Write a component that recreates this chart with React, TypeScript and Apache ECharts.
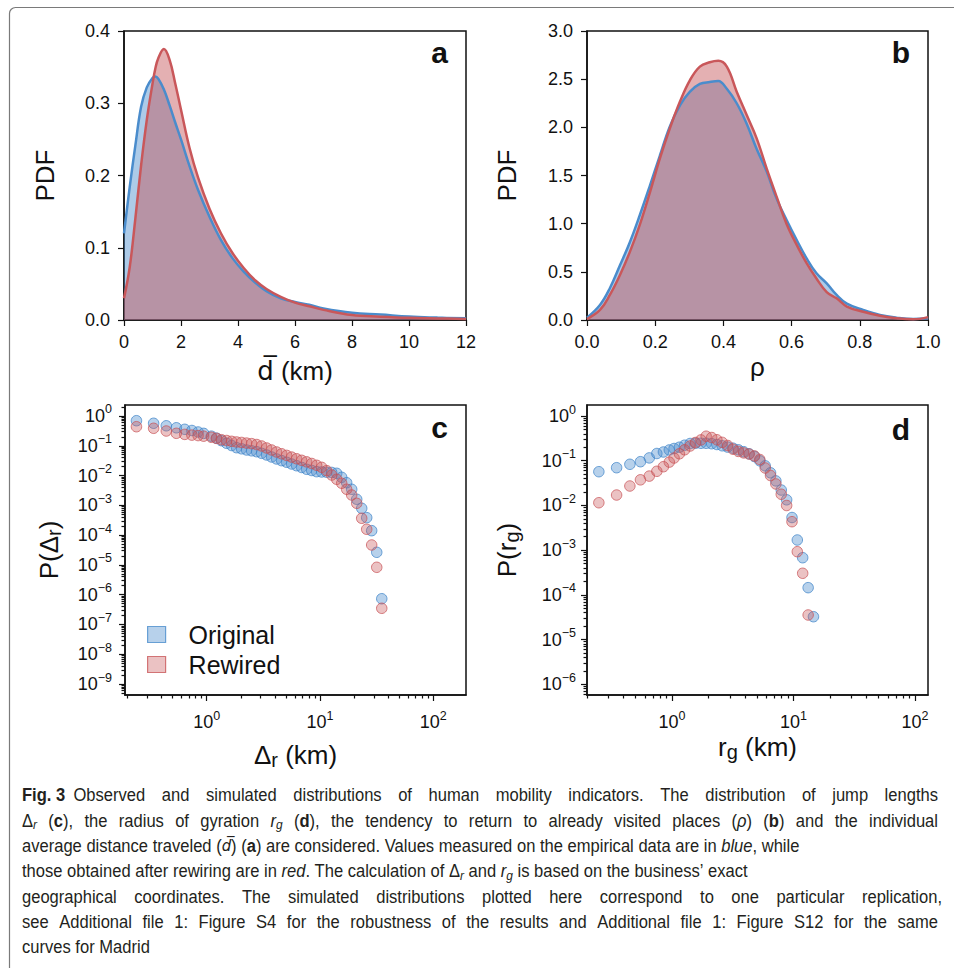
import React, { useEffect, useRef } from 'react';
import * as echarts from 'echarts';

const FONT = "'Liberation Sans', Arial, Helvetica, sans-serif";
const CAP_FONT = "'Liberation Sans', Arial, sans-serif";
const OV_FONT = "'DejaVu Sans', sans-serif";
const INK = '#111111';
const CAP_INK = '#231f20';
const BLUE = '#4a8ccc';
const RED = '#c9575a';
const BLUE_FILL = 'rgba(74,140,204,0.45)';
const RED_FILL = 'rgba(196,80,84,0.45)';
const BLUE_DOT = 'rgba(74,140,204,0.5)';
const RED_DOT = 'rgba(200,85,88,0.45)';
const BLUE_EDGE = 'rgba(60,130,200,0.9)';
const RED_EDGE = 'rgba(200,80,84,0.9)';

// ---------- panel a : individual average distance traveled ----------
const distKm = [0, 0.2, 0.4, 0.6, 0.8, 1.0, 1.1, 1.2, 1.4, 1.6, 1.8, 2.0, 2.3, 2.6, 3.0, 3.4, 3.8, 4.2, 4.6, 5.0, 5.5, 6.0, 6.5, 7.0, 8.0, 9.0, 10.0, 11.0, 12.0];
const distPdfOriginal = [0.12, 0.184, 0.242, 0.295, 0.322, 0.335, 0.337, 0.334, 0.319, 0.297, 0.273, 0.25, 0.213, 0.18, 0.143, 0.111, 0.086, 0.067, 0.052, 0.04, 0.03, 0.025, 0.021, 0.016, 0.01, 0.0075, 0.0047, 0.0033, 0.0023];
const distPdfRewired = [0.03, 0.073, 0.141, 0.214, 0.277, 0.327, 0.348, 0.362, 0.375, 0.36, 0.327, 0.291, 0.238, 0.197, 0.154, 0.12, 0.093, 0.072, 0.055, 0.043, 0.032, 0.024, 0.019, 0.014, 0.0068, 0.0046, 0.003, 0.0022, 0.0015];

// ---------- panel b : tendency to return (rho) ----------
const rho = [0, 0.038, 0.067, 0.097, 0.126, 0.155, 0.185, 0.214, 0.243, 0.273, 0.302, 0.331, 0.36, 0.385, 0.41, 0.439, 0.468, 0.497, 0.527, 0.556, 0.585, 0.615, 0.644, 0.673, 0.703, 0.732, 0.762, 0.81, 0.859, 0.908, 0.957, 1.0];
const rhoPdfOriginal = [0.024, 0.156, 0.33, 0.57, 0.81, 1.09, 1.4, 1.71, 2.01, 2.23, 2.37, 2.45, 2.47, 2.48, 2.4, 2.25, 2.04, 1.78, 1.54, 1.26, 1.04, 0.83, 0.64, 0.485, 0.38, 0.26, 0.17, 0.104, 0.052, 0.024, 0.01, 0.017];
const rhoPdfRewired = [0.01, 0.104, 0.26, 0.47, 0.71, 0.99, 1.33, 1.68, 1.99, 2.27, 2.49, 2.63, 2.675, 2.69, 2.63, 2.37, 2.13, 1.89, 1.57, 1.28, 1.0, 0.78, 0.59, 0.43, 0.29, 0.225, 0.14, 0.086, 0.045, 0.018, 0.007, 0.03];

// ---------- panel c : jump lengths ----------
const jumpKm = [0.24, 0.34, 0.44, 0.54, 0.64, 0.74, 0.84, 0.94, 1.1, 1.22, 1.35, 1.5, 1.66, 1.835, 2.03, 2.25, 2.49, 2.76, 3.05, 3.38, 3.74, 4.14, 4.59, 5.08, 5.62, 6.22, 6.89, 7.63, 8.45, 9.35, 10.35, 11.45, 12.7, 14.05, 15.55, 17.2, 19.05, 21.1, 23.35, 25.85, 28.6, 31.7, 35.1];
const jumpPOriginal = [0.695, 0.569, 0.469, 0.402, 0.357, 0.326, 0.29, 0.261, 0.21, 0.18, 0.148, 0.121, 0.102, 0.0863, 0.0792, 0.0722, 0.0678, 0.0632, 0.0558, 0.049, 0.042, 0.036, 0.0316, 0.0279, 0.0244, 0.0214, 0.0187, 0.0162, 0.0148, 0.0135, 0.0132, 0.0129, 0.0127, 0.0119, 0.00874, 0.00575, 0.00346, 0.0016, 7.96e-4, 3.85e-4, 1.41e-4, 2.65e-5, 7.3e-7];
const jumpPRewired = [0.437, 0.386, 0.313, 0.262, 0.241, 0.228, 0.22, 0.21, 0.193, 0.177, 0.16, 0.15, 0.141, 0.134, 0.129, 0.123, 0.118, 0.11, 0.0984, 0.0842, 0.0722, 0.0618, 0.0538, 0.0475, 0.0417, 0.0366, 0.0325, 0.0288, 0.0254, 0.0221, 0.0189, 0.0146, 0.0104, 0.00748, 0.0055, 0.00346, 0.00222, 0.00117, 3.67e-4, 1.57e-4, 4.66e-5, 8.3e-6, 3.49e-7];

// ---------- panel d : radius of gyration ----------
const gyrKm = [0.25, 0.35, 0.45, 0.55, 0.65, 0.75, 0.85, 0.95, 1.04, 1.15, 1.27, 1.41, 1.56, 1.73, 1.91, 2.12, 2.34, 2.59, 2.87, 3.18, 3.52, 3.89, 4.31, 4.77, 5.28, 5.85, 6.47, 7.16, 7.93, 8.78, 9.72, 10.75, 11.9, 13.2, 14.6];
const gyrPOriginal = [0.0568, 0.0698, 0.0832, 0.0951, 0.1156, 0.145, 0.1567, 0.174, 0.1876, 0.2005, 0.2223, 0.2427, 0.2453, 0.2453, 0.2453, 0.24, 0.2306, 0.2157, 0.2017, 0.1905, 0.1755, 0.159, 0.1428, 0.1243, 0.0996, 0.0769, 0.0537, 0.0354, 0.0221, 0.01336, 0.00537, 0.001687, 6.78e-4, 1.45e-4, 3.25e-5];
const gyrPRewired = [0.0115, 0.0171, 0.0272, 0.0374, 0.0453, 0.058, 0.0735, 0.0931, 0.115, 0.143, 0.1755, 0.2134, 0.2555, 0.292, 0.353, 0.33, 0.294, 0.257, 0.219, 0.181, 0.1615, 0.1496, 0.141, 0.128, 0.1064, 0.0687, 0.0467, 0.0302, 0.0178, 0.00997, 0.00433, 9.24e-4, 3.04e-4, 3.55e-5];

// ---------- tick labels (decade exponents) ----------
const cXDecades = [0, 1, 2];
const cYDecades = [-9, -8, -7, -6, -5, -4, -3, -2, -1, 0];
const dXDecades = [0, 1, 2];
const dYDecades = [-6, -5, -4, -3, -2, -1, 0];

const panelLetters = ['a', 'b', 'c', 'd'];
const legendNames = ['Original', 'Rewired'];

// caption, one string per printed line ({style|text} marks bold / italic / subscript)
const captionLines = [
  '{b|Fig.\u00a03}\u2002Observed and simulated distributions of human mobility indicators. The distribution of jump lengths',
  'Δ{isub|r} ({b|c}), the radius of gyration {i|r}{isub|g} ({b|d}), the tendency to return to already visited places ({i|ρ}) ({b|b}) and the individual',
  'average distance traveled ({iov|d\u0305}) ({b|a}) are considered. Values measured on the empirical data are in {i|blue}, while',
  'those obtained after rewiring are in {i|red}. The calculation of Δ{isub|r} and {i|r}{isub|g} is based on the business’ exact',
  'geographical coordinates. The simulated distributions plotted here correspond to one particular replication,',
  'see Additional file 1: Figure S4 for the robustness of the results and Additional file 1: Figure S12 for the same',
  'curves for Madrid',
];
// right end of each printed line; null = natural (ragged) line
const captionLineEnds: (number | null)[] = [938, 938, null, null, 942, 938, null];
const naturalLineEnds: [number, number][] = [[2, 770], [3, 775]];
const CAP_X = 22;
const CAP_SIZE = 18.5;
const capY = [795, 820.3, 845.7, 871, 896.3, 921.7, 947];

type Piece = { st: string; t: string };
function parsePieces(w: string): Piece[] {
  const out: Piece[] = [];
  const re = /\{(\w+)\|([^}]*)\}|([^{]+)/g;
  let m: RegExpExecArray | null;
  while ((m = re.exec(w))) {
    if (m[1]) out.push({ st: m[1], t: m[2] });
    else out.push({ st: '', t: m[3] });
  }
  return out;
}
function pieceFont(st: string, s: number): string {
  if (st === 'b') return `bold ${s}px ${CAP_FONT}`;
  if (st === 'i') return `italic ${s}px ${CAP_FONT}`;
  if (st === 'isub') return `italic ${s * 0.72}px ${CAP_FONT}`;
  if (st === 'iov') return `italic ${s * 0.9}px ${OV_FONT}`;
  return `${s}px ${CAP_FONT}`;
}

function layoutCaption() {
  const words = captionLines.map((l) => l.split(' '));
  let ctx: CanvasRenderingContext2D | null = null;
  try {
    ctx = document.createElement('canvas').getContext('2d');
  } catch (e) {
    ctx = null;
  }
  const s = CAP_SIZE;
  const measure = (w: string) => {
    if (!ctx) return w.length * s * 0.5;
    let tot = 0;
    for (const p of parsePieces(w)) {
      ctx.font = pieceFont(p.st, s);
      tot += ctx.measureText(p.t).width;
    }
    return tot;
  };
  const spaceW = measure(' ');
  const wordW = words.map((ws) => ws.map((w) => measure(w)));
  const natural = (i: number) => wordW[i].reduce((a, b) => a + b, 0) + spaceW * (wordW[i].length - 1);
  // horizontal condensing factor from the ragged lines
  let sx = 0;
  naturalLineEnds.forEach(([i, end]) => {
    sx += (end - CAP_X) / natural(i);
  });
  sx = Math.max(0.6, Math.min(1, sx / naturalLineEnds.length));
  const items: { x: number; y: number; text: string }[] = [];
  words.forEach((ws, i) => {
    const end = captionLineEnds[i];
    const sum = wordW[i].reduce((a, b) => a + b, 0) * sx;
    let gap = spaceW * sx;
    if (end !== null && ws.length > 1) gap = Math.max(gap, (end - CAP_X - sum) / (ws.length - 1));
    let x = CAP_X;
    ws.forEach((w, j) => {
      items.push({ x, y: capY[i], text: w });
      x += wordW[i][j] * sx + gap;
    });
  });
  return { s, sx, items };
}

function minorLogTicks(min: number, max: number): number[] {
  const out: number[] = [];
  for (let n = Math.floor(min) - 1; n <= Math.ceil(max); n++) {
    for (let k = 2; k <= 9; k++) {
      const v = n + Math.log10(k);
      if (v > min && v < max) out.push(v);
    }
  }
  return out;
}

const expText = (v: number) => {
  const e = Math.round(v);
  return e < 0 ? '\u2212' + Math.abs(e) : String(e);
};

const AX_LINE = { show: true, onZero: false, lineStyle: { color: INK, width: 1.5 } };
const LBL = { color: INK, fontFamily: FONT, fontSize: 18 };
const NAME_STYLE = { color: INK, fontFamily: FONT, fontSize: 26 };
const SUP = { color: INK, fontFamily: FONT, fontSize: 12.5, padding: [0, 0, 13, 0] };
const SUB_NAME = { color: INK, fontFamily: FONT, fontSize: 20, padding: [10, 0, 0, 0] };

function tick(len: number, custom?: number[]) {
  const t: any = { show: true, inside: false, length: len, lineStyle: { color: INK, width: 1.2 } };
  if (custom) t.customValues = custom;
  return t;
}

function linAxis(gridIndex: number, min: number, max: number, interval: number, name: string, nameGap: number, margin: number, rich?: any) {
  return {
    gridIndex, type: 'value', min, max, interval,
    axisLine: AX_LINE, axisTick: tick(6), splitLine: { show: false },
    axisLabel: { ...LBL, margin, formatter: (v: number) => (interval < 1 ? v.toFixed(1) : interval === 0.5 ? v.toFixed(1) : String(v)) },
    name, nameLocation: 'middle', nameGap, nameTextStyle: { ...NAME_STYLE, rich: rich || {} },
  };
}

function logAxes(dim: 'x' | 'y', gridIndex: number, min: number, max: number, decades: number[], name: string, nameGap: number, margin: number) {
  const major = {
    gridIndex, type: 'value', min, max,
    position: dim === 'x' ? 'bottom' : 'left',
    axisLine: AX_LINE, axisTick: tick(6, decades), splitLine: { show: false },
    axisLabel: { ...LBL, margin, customValues: decades, formatter: (v: number) => '10{s|' + expText(v) + '}', rich: { s: SUP } },
    name, nameLocation: 'middle', nameGap, nameTextStyle: { ...NAME_STYLE, rich: { sub: SUB_NAME } },
  };
  const minor = {
    gridIndex, type: 'value', min, max,
    position: dim === 'x' ? 'bottom' : 'left',
    axisLine: { show: false, onZero: false }, axisTick: tick(3.5, minorLogTicks(min, max)),
    axisLabel: { show: false }, splitLine: { show: false },
  };
  return [major, minor];
}

function buildOption(): any {
  const C = { xMin: -0.721, xMax: 2.289, yMin: -9.369, yMax: 0.369 };
  const D = { xMin: -0.6996, xMax: 2.107, yMin: -6.239, yMax: 0.246 };
  const grids = [
    { left: 124, top: 31, width: 342, height: 289 },
    { left: 587, top: 31, width: 341, height: 289 },
    { left: 125, top: 405, width: 341, height: 290 },
    { left: 587, top: 405, width: 341, height: 290 },
  ].map((g) => ({ ...g, show: true, borderColor: INK, borderWidth: 1.5, backgroundColor: 'transparent', containLabel: false, outerBoundsMode: 'none' }));

  const [cxMaj, cxMin] = logAxes('x', 2, C.xMin, C.xMax, cXDecades, 'Δ{sub|r} (km)', 45, 14);
  const [cyMaj, cyMin] = logAxes('y', 2, C.yMin, C.yMax, cYDecades, 'P(Δ{sub|r})', 61.5, 13);
  const [dxMaj, dxMin] = logAxes('x', 3, D.xMin, D.xMax, dXDecades, 'r{sub|g} (km)', 37, 14);
  const [dyMaj, dyMin] = logAxes('y', 3, D.yMin, D.yMax, dYDecades, 'P(r{sub|g})', 65.5, 11);

  const xAxis = [
    linAxis(0, 0, 12, 2, '{ov|d\u0305} (km)', 38, 13, { ov: { ...NAME_STYLE, fontFamily: "'DejaVu Sans', sans-serif" } }),
    linAxis(1, 0, 1, 0.2, 'ρ', 34, 13),
    cxMaj, cxMin, dxMaj, dxMin,
  ];
  const yAxis = [
    linAxis(0, 0, 0.4, 0.1, 'PDF', 66, 14),
    linAxis(1, 0, 3, 0.5, 'PDF', 67, 14),
    cyMaj, cyMin, dyMaj, dyMin,
  ];

  const lineSeries = (name: string, idx: number, xs: number[], ys: number[], color: string, fill: string) => ({
    type: 'line', name, xAxisIndex: idx, yAxisIndex: idx,
    data: xs.map((x, i) => [x, ys[i]]),
    smooth: 0.4, showSymbol: false, symbol: 'none',
    lineStyle: { color, width: 2.5 }, itemStyle: { color }, areaStyle: { color: fill, opacity: 1 },
  });
  const dotSeries = (name: string, idx: number, xs: number[], ys: number[], fill: string, edge: string) => ({
    type: 'scatter', name, xAxisIndex: idx, yAxisIndex: idx,
    data: ys.map((y, i) => [Math.log10(xs[i]), Math.log10(y)]),
    symbol: 'circle', symbolSize: 10.5,
    itemStyle: { color: fill, borderColor: edge, borderWidth: 1 },
  });

  const series = [
    lineSeries('Original d', 0, distKm, distPdfOriginal, BLUE, BLUE_FILL),
    lineSeries('Rewired d', 0, distKm, distPdfRewired, RED, RED_FILL),
    lineSeries('Original ρ', 1, rho, rhoPdfOriginal, BLUE, BLUE_FILL),
    lineSeries('Rewired ρ', 1, rho, rhoPdfRewired, RED, RED_FILL),
    dotSeries('Original', 2, jumpKm, jumpPOriginal, BLUE_DOT, BLUE_EDGE),
    dotSeries('Rewired', 2, jumpKm, jumpPRewired, RED_DOT, RED_EDGE),
    dotSeries('Original rg', 4, gyrKm, gyrPOriginal, BLUE_DOT, BLUE_EDGE),
    dotSeries('Rewired rg', 4, gyrKm, gyrPRewired, RED_DOT, RED_EDGE),
  ];

  const letterPos = [[448, 52.6], [910, 52.6], [448, 427], [910, 429]];
  const letters = panelLetters.map((t, i) => ({
    type: 'text', x: letterPos[i][0], y: letterPos[i][1], silent: true,
    style: { text: t, fontFamily: FONT, fontSize: 30, fontWeight: 'bold', fill: INK, align: 'right', verticalAlign: 'middle' },
  }));

  const cap = layoutCaption();
  const s = cap.s;
  const capRich = {
    b: { fontFamily: CAP_FONT, fontSize: s, fontWeight: 'bold', fill: CAP_INK },
    i: { fontFamily: CAP_FONT, fontSize: s, fontStyle: 'italic', fill: CAP_INK },
    iov: { fontFamily: OV_FONT, fontSize: s * 0.9, fontStyle: 'italic', fill: CAP_INK },
    isub: { fontFamily: CAP_FONT, fontSize: s * 0.72, fontStyle: 'italic', fill: CAP_INK, padding: [s * 0.5, 0, 0, 0] },
  };
  const caption = cap.items.map((it) => ({
    type: 'text', x: it.x, y: it.y, scaleX: cap.sx, scaleY: 1, silent: true,
    style: { x: 0, y: 0, text: it.text, fontFamily: CAP_FONT, fontSize: s, fill: CAP_INK, align: 'left', verticalAlign: 'middle', rich: capRich },
  }));

  const frame = {
    type: 'rect', silent: true, z: -10,
    shape: { x: 9.5, y: 7.5, width: 960, height: 990, r: 6 },
    style: { fill: '#ffffff', stroke: '#7a7a7a', lineWidth: 1.2 },
  };

  return {
    animation: false,
    backgroundColor: '#ffffff',
    textStyle: { fontFamily: FONT },
    grid: grids,
    xAxis,
    yAxis,
    series,
    legend: {
      show: true, orient: 'vertical', left: 147, top: 622, padding: 0, itemGap: 5,
      itemWidth: 18, itemHeight: 16, icon: 'rect', selectedMode: false,
      data: [
        { name: legendNames[0], itemStyle: { color: 'rgba(74,140,204,0.5)', borderColor: BLUE, borderWidth: 1.2 } },
        { name: legendNames[1], itemStyle: { color: 'rgba(200,85,88,0.45)', borderColor: RED, borderWidth: 1.2 } },
      ],
      formatter: (n: string) => '{t|' + n + '}',
      textStyle: { color: INK, fontFamily: FONT, fontSize: 25, rich: { t: { color: INK, fontFamily: FONT, fontSize: 25, padding: [0, 0, 0, 18] } } },
    },
    graphic: [frame, ...letters, ...caption],
  };
}

export default function App() {
  const ref = useRef<HTMLDivElement>(null);
  useEffect(() => {
    if (!ref.current) return;
    const chart = echarts.init(ref.current, undefined, { renderer: 'svg' });
    chart.setOption(buildOption());
    return () => chart.dispose();
  }, []);
  return <div ref={ref} style={{ position: 'fixed', left: 0, top: 0, width: 954, height: 968, background: '#ffffff' }} />;
}
